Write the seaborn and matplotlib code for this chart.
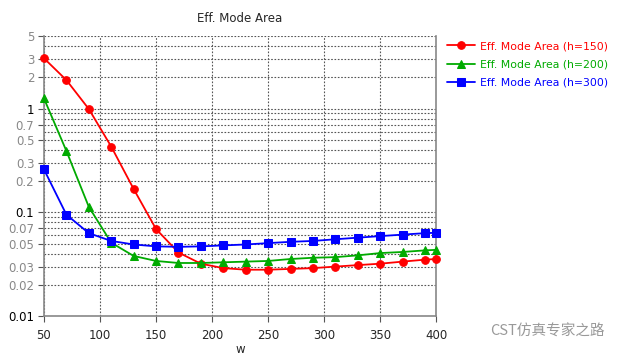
import numpy as np
import pandas as pd
import matplotlib
matplotlib.use("Agg")
import matplotlib.pyplot as plt
import seaborn as sns
from matplotlib.ticker import FixedLocator, NullFormatter

w = [50, 70, 90, 110, 130, 150, 170, 190, 210, 230, 250, 270, 290, 310, 330, 350, 370, 390, 400]

area_h150 = [3.05, 1.88, 0.99, 0.43, 0.168, 0.069, 0.041, 0.032, 0.029, 0.028, 0.028, 0.0285,
             0.029, 0.030, 0.031, 0.032, 0.0335, 0.035, 0.0355]
area_h200 = [1.25, 0.39, 0.113, 0.051, 0.038, 0.034, 0.0325, 0.0325, 0.033, 0.0335, 0.034, 0.0355,
             0.0365, 0.037, 0.0385, 0.0405, 0.0415, 0.043, 0.0435]
area_h300 = [0.259, 0.095, 0.063, 0.053, 0.049, 0.047, 0.0465, 0.047, 0.048, 0.049, 0.0505, 0.052,
             0.053, 0.055, 0.057, 0.059, 0.061, 0.063, 0.0635]

labels = ["Eff. Mode Area (h=150)", "Eff. Mode Area (h=200)", "Eff. Mode Area (h=300)"]
colors = ["#ff0000", "#00aa00", "#0000ff"]
markers = ["o", "^", "s"]

ytick_vals = [0.01, 0.02, 0.03, 0.05, 0.07, 0.1, 0.2, 0.3, 0.5, 0.7, 1, 2, 3, 5]
ytick_labels = ["0.01", "0.02", "0.03", "0.05", "0.07", "0.1", "0.2", "0.3", "0.5", "0.7", "1", "2", "3", "5"]
xticks = [50, 100, 150, 200, 250, 300, 350, 400]

sns.set_style("white")
plt.rcParams['font.family'] = ['DejaVu Sans', 'Noto Sans CJK SC']

fig = plt.figure(figsize=(6.24, 3.58), dpi=100)
ax = fig.add_axes([0.0705, 0.117, 0.6285, 0.7824])

for ys, lab, c, m in zip([area_h150, area_h200, area_h300], labels, colors, markers):
    df = pd.DataFrame({"w": w, "area": ys})
    sns.lineplot(data=df, x="w", y="area", ax=ax, color=c, marker=m, markersize=5.5,
                 markeredgecolor=c, linewidth=1.3, label=lab)
for ln in ax.lines:
    ln.set_clip_on(False)
    ln.set_zorder(3)

ax.set_yscale("log")
ax.set_xlim(50, 400)
ax.set_ylim(0.01, 5)

# grid lines at every minor decade step
grid_y = []
for d in [0.01, 0.1, 1]:
    for k in range(1, 10):
        v = d * k
        if v <= 5:
            grid_y.append(v)
ax.yaxis.set_minor_locator(FixedLocator(grid_y))
ax.yaxis.set_minor_formatter(NullFormatter())
ax.yaxis.set_major_locator(FixedLocator(ytick_vals))
ax.set_yticklabels(ytick_labels)
ax.set_xticks(xticks)
ax.grid(True, which="both", axis="y", color="#555555", linestyle=(0, (1.5, 1.5)), linewidth=0.8)
ax.grid(True, which="major", axis="x", color="#555555", linestyle=(0, (1.5, 1.5)), linewidth=0.8)
ax.set_axisbelow(True)

for lab in ax.get_yticklabels():
    if lab.get_text() in ("1", "0.1", "0.01"):
        lab.set_color("black")
    else:
        lab.set_color("#888888")
ax.tick_params(axis="y", which="major", length=4, width=0.8, color="#555555", labelsize=8.5, left=True, pad=3)
ax.tick_params(axis="y", which="minor", length=0)
ax.tick_params(axis="x", length=4, width=0.8, color="#555555", labelsize=8.5, bottom=True, pad=5)

for s in ["left", "bottom", "right"]:
    ax.spines[s].set_color("#888888")
    ax.spines[s].set_linewidth(1.2)
ax.spines["top"].set_visible(False)

ax.set_xlabel("w", fontsize=8.5, labelpad=1)
ax.set_ylabel("")
ax.set_title("Eff. Mode Area", fontsize=8.5, pad=10)

leg = ax.legend(loc="upper left", bbox_to_anchor=(1.0, 1.02), frameon=False, fontsize=7.8,
                handlelength=2.6, handletextpad=0.4, labelspacing=0.75, borderaxespad=0.6)
for txt, c in zip(leg.get_texts(), colors):
    txt.set_color(c)

fig.text(0.785, 0.075, "CST仿真专家之路", fontsize=10.5, color="#999999",
         family=['Noto Sans CJK SC', 'DejaVu Sans'], va="center")

fig.savefig("out.png", dpi=100)
